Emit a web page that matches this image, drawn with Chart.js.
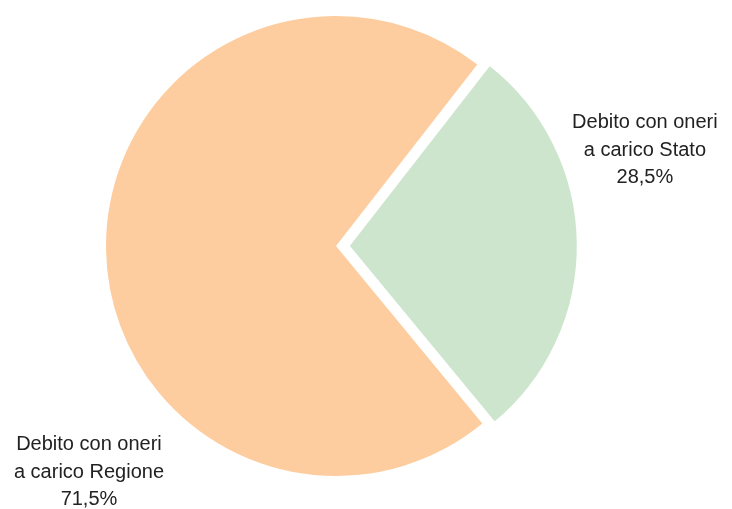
<!DOCTYPE html>
<html>
<head>
<meta charset="utf-8">
<script src="https://cdn.jsdelivr.net/npm/chart.js@4"></script>
<style>
  html, body { margin: 0; padding: 0; background: #fff; }
  #wrap { width: 732px; height: 509px; }
</style>
</head>
<body>
<div id="wrap"><canvas id="pie" width="732" height="509"></canvas></div>
<script>
const categories = [
  ["Debito con oneri", "a carico Regione"],
  ["Debito con oneri", "a carico Stato"],
];
const shares = [71.5, 28.5];
const sliceColors = ["#FDCD9F", "#CCE5CC"];

// label position, as multiples of the radius from the slice centre
const labelSpots = [
  { dx: -1.074, dy: 0.983 },
  { dx: 1.343, dy: -0.417 },
];

const pieLabels = {
  id: "pieLabels",
  afterDraw(chart) {
    const ctx = chart.ctx;
    const meta = chart.getDatasetMeta(0);
    ctx.save();
    ctx.font = "20px 'Liberation Sans', Arial, sans-serif";
    ctx.fillStyle = "#222222";
    ctx.textAlign = "center";
    ctx.textBaseline = "middle";
    meta.data.forEach(function (arc, i) {
      const r = arc.outerRadius;
      const cx = arc.x + labelSpots[i].dx * r;
      const cy = arc.y + labelSpots[i].dy * r;
      const lines = categories[i].concat([shares[i].toFixed(1).replace(".", ",") + "%"]);
      lines.forEach(function (t, k) {
        ctx.fillText(t, cx, cy + (k - 1) * 27.5);
      });
    });
    ctx.restore();
  },
};

new Chart(document.getElementById("pie"), {
  type: "pie",
  data: {
    labels: categories.map(function (c) { return c.join(" "); }),
    datasets: [
      {
        data: shares,
        backgroundColor: sliceColors,
        borderColor: "#ffffff",
        borderWidth: [0, 3],
        offset: [0, 48],
        hoverOffset: 0,
      },
    ],
  },
  options: {
    responsive: false,
    animation: false,
    rotation: 140.5,
    radius: 230,
    layout: {
      padding: { left: 0, right: 60, top: 0, bottom: 17 },
    },
    plugins: {
      legend: { display: false },
      tooltip: { enabled: false },
    },
  },
  plugins: [pieLabels],
});
</script>
</body>
</html>
